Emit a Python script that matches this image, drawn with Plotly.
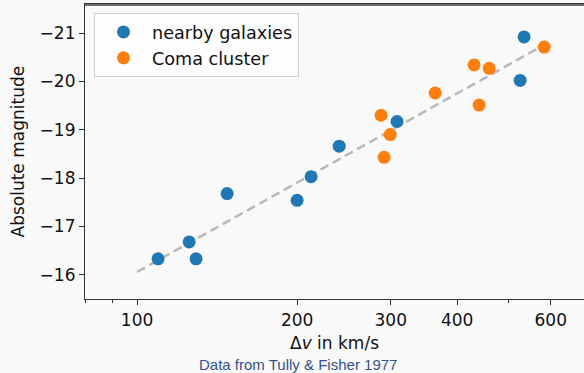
import plotly.graph_objects as go
import numpy as np

# nearby galaxies
nearby_dv = [109.5, 125.3, 129.1, 147.7, 200.0, 212.5, 240.0, 308.3, 525.5, 534.6]
nearby_mag = [-16.33, -16.68, -16.33, -17.68, -17.54, -18.03, -18.66, -19.17, -20.02, -20.92]

# Coma cluster
coma_dv = [287.7, 299.3, 291.5, 363.7, 430.5, 459.6, 440.0, 583.2]
coma_mag = [-19.30, -18.90, -18.43, -19.76, -20.34, -20.27, -19.51, -20.71]

# fit line
fit_dv = [100, 600]
fit_mag = [-16.06, -20.83]

x_tickvals = [100, 200, 300, 400, 600]
x_minor = [80, 90, 500, 700]
y_tickvals = [-21, -20, -19, -18, -17, -16]
y_ticktext = ["\u221221", "\u221220", "\u221219", "\u221218", "\u221217", "\u221216"]

FONT = "DejaVu Sans"
BG = "#f9f9f9"
W, H = 584, 373
L, R, T, B = 85, 0, 4, 74
PW, PH = W - L - R, H - T - B
Y_RANGE = [-15.5, -21.6]

fig = go.Figure()
fig.add_trace(go.Scatter(x=fit_dv, y=fit_mag, mode="lines",
                         line=dict(color="#b8b8b8", width=2.5, dash="9px,5px"),
                         showlegend=False, hoverinfo="skip"))
fig.add_trace(go.Scatter(x=nearby_dv, y=nearby_mag, mode="markers", name="nearby galaxies",
                         marker=dict(color="#1f77b4", size=13, line=dict(width=0))))
fig.add_trace(go.Scatter(x=coma_dv, y=coma_mag, mode="markers", name="Coma cluster",
                         marker=dict(color="#ff7f0e", size=13, line=dict(width=0))))

fig.update_layout(
    width=W, height=H,
    margin=dict(l=L, r=R, t=T, b=B, autoexpand=False),
    paper_bgcolor=BG, plot_bgcolor=BG,
    font=dict(family=FONT, size=17, color="#111111"),
    showlegend=True,
    legend=dict(x=(94 - L) / PW, y=1 - (13 - T) / PH, xanchor="left", yanchor="top",
                bgcolor="rgba(253,253,253,0.9)", bordercolor="#d0d0d0", borderwidth=1,
                font=dict(family=FONT, size=17.6, color="#111111"),
                itemwidth=47, tracegroupgap=0),
    xaxis=dict(type="log", range=[np.log10(79.8), np.log10(693)], automargin=False,
               tickvals=x_tickvals, ticktext=[str(v) for v in x_tickvals],
               ticks="outside", ticklen=5, tickwidth=1, tickcolor="#333333",
               minor=dict(tickvals=x_minor, ticks="outside", ticklen=3, tickcolor="#333333"),
               showline=True, linecolor="#333333", linewidth=1.2, mirror=True,
               showgrid=False, zeroline=False),
    yaxis=dict(range=Y_RANGE, automargin=False, tickvals=y_tickvals, ticktext=y_ticktext,
               ticks="outside", ticklen=5, tickwidth=1, tickcolor="#333333",
               showline=True, linecolor="#333333", linewidth=1.2,
               showgrid=False, zeroline=False),
)

# top spine, drawn just inside the plot area
fig.add_shape(type="line", xref="paper", yref="y", x0=0, x1=1,
              y0=Y_RANGE[1] + 0.02, y1=Y_RANGE[1] + 0.02,
              line=dict(color="#3a3a3a", width=1.5), layer="above")

fig.add_annotation(text="\u0394<i>v</i> in km/s", xref="paper", yref="paper",
                   x=0.5, y=-(343 - (T + PH)) / PH, xanchor="center", yanchor="middle",
                   showarrow=False, font=dict(family=FONT, size=17, color="#111111"))
fig.add_annotation(text="Absolute magnitude", xref="paper", yref="paper", textangle=-90,
                   x=-(L - 17) / PW, y=0.5, xanchor="center", yanchor="middle",
                   showarrow=False, font=dict(family=FONT, size=17, color="#111111"))
fig.add_annotation(text="Data from Tully &amp; Fisher 1977", xref="paper", yref="paper",
                   x=(298 - L) / PW, y=-(364 - (T + PH)) / PH, xanchor="center", yanchor="middle",
                   showarrow=False, font=dict(family="Liberation Sans", size=15, color="#34508f"))

fig.write_html("out.html", config={"displayModeBar": False},
               post_script="document.body.style.margin='0';document.body.style.background='%s';" % BG)
